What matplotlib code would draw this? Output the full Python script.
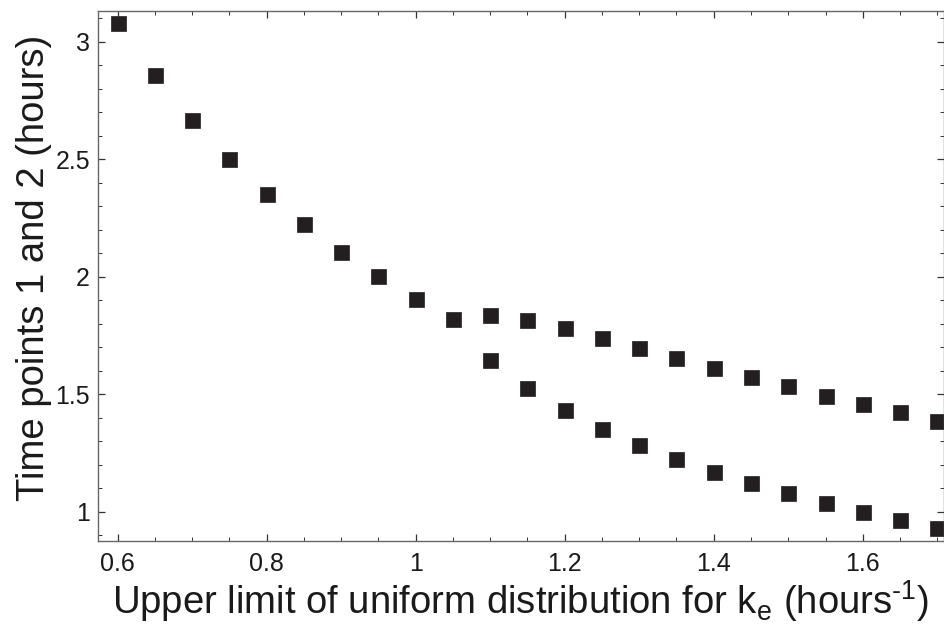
import matplotlib
matplotlib.use("Agg")
import matplotlib.pyplot as plt
from matplotlib.ticker import FixedLocator, MultipleLocator

plt.rcParams["font.family"] = ["Liberation Sans", "DejaVu Sans"]
plt.rcParams["mathtext.fontset"] = "custom"
plt.rcParams["mathtext.rm"] = "Liberation Sans"

# ── data ──────────────────────────────────────────────────────────────────────
ke_upper = [0.60, 0.65, 0.70, 0.75, 0.80, 0.85, 0.90, 0.95, 1.00, 1.05,
            1.10, 1.15, 1.20, 1.25, 1.30, 1.35, 1.40, 1.45, 1.50, 1.55,
            1.60, 1.65, 1.70]
t_upper = [3.078, 2.858, 2.667, 2.501, 2.352, 2.224, 2.106, 2.001, 1.906, 1.821,
           1.837, 1.815, 1.780, 1.740, 1.696, 1.652, 1.611, 1.573, 1.533, 1.492,
           1.458, 1.423, 1.387]

ke_lower = [1.10, 1.15, 1.20, 1.25, 1.30, 1.35, 1.40, 1.45, 1.50, 1.55,
            1.60, 1.65, 1.70]
t_lower = [1.645, 1.526, 1.434, 1.353, 1.285, 1.226, 1.171, 1.122, 1.078, 1.037,
           0.999, 0.963, 0.931]

xticks = [0.6, 0.8, 1.0, 1.2, 1.4, 1.6]
xtick_labels = ["0.6", "0.8", "1", "1.2", "1.4", "1.6"]
yticks = [1.0, 1.5, 2.0, 2.5, 3.0]
ytick_labels = ["1", "1.5", "2", "2.5", "3"]

# ── figure ────────────────────────────────────────────────────────────────────
fig = plt.figure(figsize=(9.45, 6.26), dpi=100)
ax = fig.add_axes([0.1034, 0.1363, 0.8956, 0.8461])

mk = dict(ls="none", marker="s", ms=10.8, mfc="#231f20", mec="#231f20", mew=0.5)
ax.plot(ke_upper, t_upper, **mk)
ax.plot(ke_lower, t_lower, **mk)

ax.set_xlim(0.5734, 1.709)
ax.set_ylim(0.877, 3.13)

ax.xaxis.set_major_locator(FixedLocator(xticks))
ax.set_xticklabels(xtick_labels)
ax.xaxis.set_minor_locator(MultipleLocator(0.05))
ax.yaxis.set_major_locator(FixedLocator(yticks))
ax.set_yticklabels(ytick_labels)
ax.yaxis.set_minor_locator(MultipleLocator(0.1))

for s in ax.spines.values():
    s.set_color("#666666")
    s.set_linewidth(1.0)

ax.tick_params(which="both", direction="in", top=True, right=True,
               color="#333333", labelsize=18, labelcolor="#1a1a1a")
ax.tick_params(which="major", length=5, width=0.9)
ax.tick_params(which="minor", length=3, width=0.7)
ax.tick_params(axis="x", which="major", pad=8)
ax.tick_params(axis="y", which="major", pad=5.5)

ax.set_xlabel(r"Upper limit of uniform distribution for k$_\mathregular{e}$ (hours$^{\text{-1}}$)",
              fontsize=27.5, color="#1a1a1a", labelpad=2)
ax.set_ylabel("Time points 1 and 2 (hours)", fontsize=27.5, color="#1a1a1a")
ax.yaxis.set_label_coords(-0.054, 0.515)

fig.savefig("out.png", dpi=100)
